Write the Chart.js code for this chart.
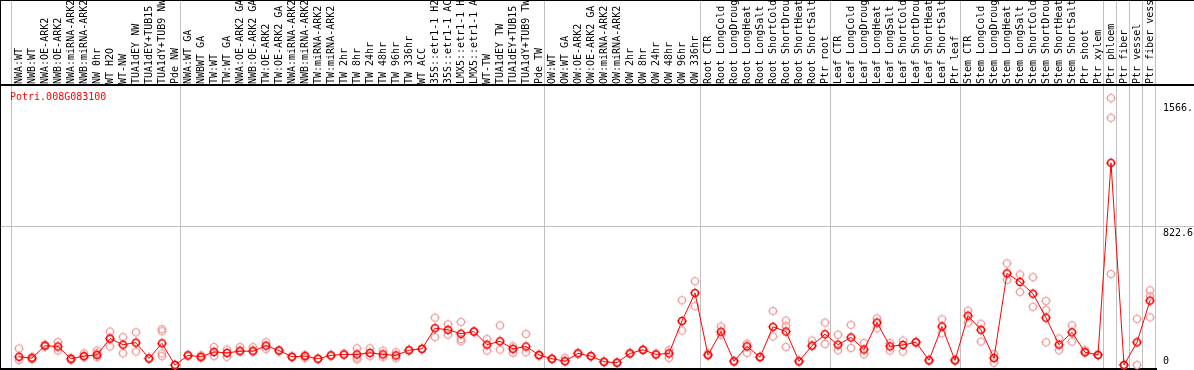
<!DOCTYPE html>
<html>
<head>
<meta charset="utf-8">
<script src="https://cdn.jsdelivr.net/npm/chart.js@4.4.0/dist/chart.umd.min.js"></script>
<style>
    html, body { margin: 0; padding: 0; background: #fff; }
    canvas { display: block; }
</style>
</head>
<body>
<canvas id="efpChart" width="1194" height="370"></canvas>
<script>
// eFP-style expression plot, one gene
const GENE_ID = 'Potri.008G083100';

const SAMPLE_LABELS = [
    // nascent wood
    'NWA:WT', 'NWB:WT', 'NWA:OE-ARK2', 'NWB:OE-ARK2', 'NWA:miRNA-ARK2', 'NWB:miRNA-ARK2',
    'NW 0hr', 'WT H2O', 'WT-NW', 'TUA1dEY NW', 'TUA1dEY+TUB15 NW', 'TUA1dY+TUB9 NW', 'Pde NW',
    // tension wood
    'NWA:WT GA', 'NWBWT GA', 'TW:WT', 'TW:WT GA', 'NWA:OE-ARK2 GA', 'NWB:OE-ARK2 GA',
    'TW:OE-ARK2', 'TW:OE-ARK2 GA', 'NWA:miRNA-ARK2 GA', 'NWB:miRNA-ARK2 GA', 'TW:miRNA-ARK2',
    'TW:miRNA-ARK2 GA', 'TW 2hr', 'TW 8hr', 'TW 24hr', 'TW 48hr', 'TW 96hr', 'TW 336hr', 'WT ACC',
    '35S::etr1-1 H2O', '35S::etr1-1 ACC', 'LMX5::etr1-1 H2O', 'LMX5::etr1-1 ACC', 'WT-TW',
    'TUA1dEY TW', 'TUA1dEY+TUB15 TW', 'TUA1dY+TUB9 TW', 'Pde TW',
    // opposite wood
    'OW:WT', 'OW:WT GA', 'OW:OE-ARK2', 'OW:OE-ARK2 GA', 'OW:miRNA-ARK2', 'OW:miRNA-ARK2 GA',
    'OW 2hr', 'OW 8hr', 'OW 24hr', 'OW 48hr', 'OW 96hr', 'OW 336hr',
    // root
    'Root CTR', 'Root LongCold', 'Root LongDrought', 'Root LongHeat', 'Root LongSalt',
    'Root ShortCold', 'Root ShortDrought', 'Root ShortHeat', 'Root ShortSalt', 'Ptr root',
    // leaf
    'Leaf CTR', 'Leaf LongCold', 'Leaf LongDrought', 'Leaf LongHeat', 'Leaf LongSalt',
    'Leaf ShortCold', 'Leaf ShortDrought', 'Leaf ShortHeat', 'Leaf ShortSalt', 'Ptr leaf',
    // stem
    'Stem CTR', 'Stem LongCold', 'Stem LongDrought', 'Stem LongHeat', 'Stem LongSalt',
    'Stem ShortCold', 'Stem ShortDrought', 'Stem ShortHeat', 'Stem ShortSalt', 'Ptr shoot', 'Ptr xylem',
    'Ptr phloem', 'Ptr fiber', 'Ptr vessel', 'Ptr fiber vessel'
];

// index of the first sample in each group (last entry = end)
const GROUP_STARTS = [0, 13, 41, 53, 63, 73, 84, 85, 86, 87, 88];

const MEAN_VALUES = [
    49, 41, 115, 110, 37, 53, 60, 157, 121, 133, 39, 129, 0,
    57, 49, 78, 72, 82, 82, 115, 86, 49, 53, 37, 57, 63, 63, 72, 63, 57, 88, 96, 219, 209, 186, 199, 121, 141, 96, 110, 60,
    37, 23, 69, 53, 19, 14, 69, 90, 63, 69, 262, 428,
    59, 198, 22, 111, 47, 227, 199, 22, 115, 183,
    121, 164, 92, 252, 111, 119, 135, 28, 229, 28,
    293, 209, 41, 545, 494, 424, 281, 121, 194, 76, 60,
    1202, 0, 135, 383
];

// individual replicates per sample
const REPLICATE_VALUES = [
    [98, 29], [33, 48], [121, 111], [137, 86], [41, 29], [69, 47], [86, 72, 47], [199, 111, 160],
    [166, 70], [194, 80], [39, 39], [213, 201, 69, 53], [0, 0],
    [57, 57], [57, 41], [107, 53], [92, 49], [107, 88], [106, 88], [135, 96], [86, 86], [49, 49],
    [41, 60], [37, 37], [57, 57], [63, 63], [99, 43, 33], [99, 53], [86, 47], [76, 41], [88, 88],
    [96, 96], [281, 166], [242, 180], [256, 154, 141], [199, 199], [154, 86], [235, 92], [111, 72],
    [184, 76], [53, 60],
    [37, 37], [43, 23], [69, 69], [53, 53], [19, 19], [14, 14], [69, 69], [90, 90], [63, 63],
    [89, 43], [385, 205], [498, 350],
    [69, 59], [229, 180], [22, 22], [127, 72], [47, 47], [321, 170], [264, 233, 107], [22, 22],
    [145, 115], [252, 125],
    [180, 88], [239, 101], [131, 63], [277, 219], [131, 86], [145, 80], [135, 135], [28, 28],
    [272, 189], [28, 28],
    [323, 252], [245, 139], [66, 14], [604, 506], [538, 434], [522, 346], [381, 327, 135],
    [158, 88], [236, 139], [88, 76], [60, 60],
    [1587, 1470, 541], [0, 0], [274, 0], [444, 409, 283]
];

const Y_TICK_VALUES = [0, 822.6, 1566];
const Y_TICK_LABELS = ['0', '822.6', '1566.'];
const Y_MAX = 1659;

const MONO = '"DejaVu Sans Mono", "Liberation Mono", monospace';
const MEAN_COLOR = '#ff0000';
const REP_COLOR = '#ee9a9a';
const GRID_COLOR = '#c0c0c0';

// small open circle with tick stubs, like the original plot symbol
function makeMarker(color, lw) {
    const c = document.createElement('canvas');
    c.width = 12;
    c.height = 12;
    const g = c.getContext('2d');
    g.strokeStyle = color;
    g.lineWidth = lw;
    g.beginPath();
    g.arc(6, 6, 3.5, 0, Math.PI * 2);
    g.stroke();
    g.lineWidth = 1;
    g.beginPath();
    g.moveTo(6, 0.8); g.lineTo(6, 1.8);
    g.moveTo(6, 10.2); g.lineTo(6, 11.2);
    g.moveTo(0.8, 6); g.lineTo(1.8, 6);
    g.moveTo(10.2, 6); g.lineTo(11.2, 6);
    g.stroke();
    return c;
}

const replicateSets = [0, 1, 2, 3].map(k => REPLICATE_VALUES.map(r => (r[k] === undefined ? null : r[k])));

const framePlugin = {
    id: 'frame',
    beforeDatasetsDraw(chart) {
        const { ctx, width, height } = chart;
        const x = chart.scales.x;
        const y = chart.scales.y;
        ctx.save();
        ctx.fillStyle = GRID_COLOR;
        GROUP_STARTS.forEach(b => {
            const px = Math.floor(x.getPixelForValue(b - 0.5)) - 1;
            ctx.fillRect(px, 0, 1, height);
        });
        ctx.fillRect(0, Math.floor(y.getPixelForValue(822.6)), width, 1);
        ctx.fillStyle = '#000';
        ctx.fillRect(0, 0, width, 1);
        ctx.fillRect(0, 84, width, 2);
        ctx.fillRect(0, 0, 1, height);
        ctx.fillRect(0, 368, Math.ceil(x.right), 2);
        ctx.restore();
    },
    afterDraw(chart) {
        const { ctx } = chart;
        ctx.save();
        ctx.font = '10px ' + MONO;
        ctx.fillStyle = MEAN_COLOR;
        ctx.textBaseline = 'middle';
        ctx.fillText(GENE_ID, 10, 97.5);
        ctx.restore();
    }
};

const meanMarker = makeMarker(MEAN_COLOR, 1.6);
const repMarker = makeMarker(REP_COLOR, 1.2);

const datasets = [{
    label: 'mean',
    data: MEAN_VALUES,
    borderColor: MEAN_COLOR,
    borderWidth: 1,
    pointStyle: meanMarker,
    tension: 0,
    clip: false
}].concat(replicateSets.map((vals, k) => ({
    label: 'rep ' + (k + 1),
    data: vals,
    showLine: false,
    pointStyle: repMarker,
    clip: false
})));

new Chart(document.getElementById('efpChart').getContext('2d'), {
    type: 'line',
    data: { labels: SAMPLE_LABELS, datasets },
    plugins: [framePlugin],
    options: {
        responsive: false,
        animation: false,
        events: [],
        layout: { padding: { left: 12.5, right: 0, top: 0, bottom: 1 } },
        plugins: { legend: { display: false }, tooltip: { enabled: false } },
        scales: {
            x: {
                type: 'category',
                position: 'top',
                offset: true,
                grid: { display: false, drawTicks: false },
                border: { display: false },
                ticks: {
                    autoSkip: false,
                    minRotation: 90,
                    maxRotation: 90,
                    padding: 2,
                    labelOffset: 12,
                    color: '#000',
                    font: { family: MONO, size: 10 }
                },
                afterFit: scale => {
                    scale.height = 86;
                    scale.paddingLeft = 0;
                    scale.paddingRight = 0;
                }
            },
            y: {
                position: 'right',
                min: 0,
                max: Y_MAX,
                grid: { display: false, drawTicks: false },
                border: { display: false },
                afterBuildTicks: scale => { scale.ticks = Y_TICK_VALUES.map(v => ({ value: v })); },
                afterFit: scale => {
                    scale.width = 37.5;
                    scale.paddingTop = 0;
                    scale.paddingBottom = 0;
                },
                ticks: {
                    autoSkip: false,
                    padding: 6.5,
                    labelOffset: 7,
                    color: '#000',
                    font: { family: MONO, size: 10, lineHeight: 1.1 },
                    callback: (v, i) => (i === 0 ? [Y_TICK_LABELS[i], '', ''] : Y_TICK_LABELS[i])
                }
            }
        }
    }
});
</script>
</body>
</html>
